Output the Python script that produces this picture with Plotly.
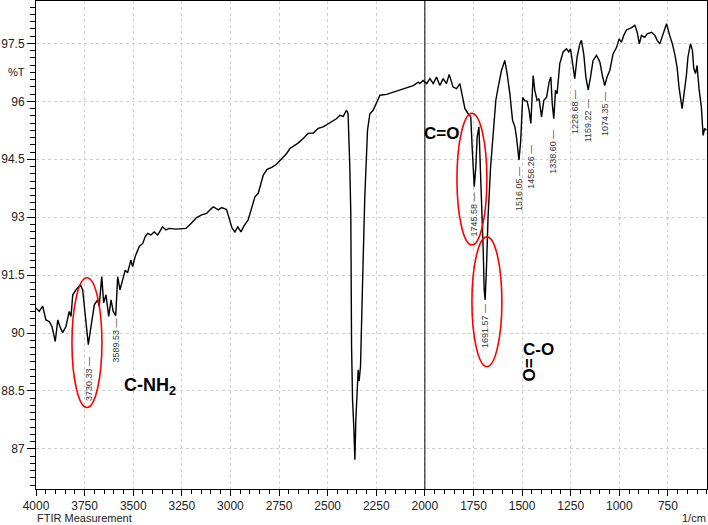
import plotly.graph_objects as go

# Spectrum: wavenumber (1/cm) and transmittance (%T)
wavenumber = [4000, 3983, 3966, 3949, 3932, 3918, 3901, 3888, 3877, 3863, 3846, 3829, 3820, 3811,
              3794, 3772, 3760, 3743, 3731, 3717, 3700, 3683, 3675, 3662, 3652, 3640, 3626, 3614,
              3603, 3590, 3580, 3568, 3554, 3541, 3529, 3512, 3503, 3490, 3469, 3451, 3438, 3426,
              3409, 3392, 3374, 3349, 3332, 3315, 3280, 3229, 3200, 3174, 3148, 3122, 3105, 3088,
              3063, 3045, 3020, 3006, 2992, 2977, 2962, 2946, 2931, 2909, 2891, 2874, 2857, 2845,
              2831, 2811, 2788, 2763, 2737, 2711, 2694, 2668, 2652, 2626, 2600, 2574, 2549, 2523,
              2497, 2472, 2455, 2437, 2420, 2403, 2395, 2386, 2381, 2377, 2372, 2365, 2360, 2355,
              2348, 2343, 2338, 2331, 2320, 2309, 2295, 2283, 2266, 2245, 2231, 2197, 2163, 2129,
              2094, 2060, 2034, 2026, 2009, 1991, 1974, 1957, 1940, 1923, 1906, 1889, 1875, 1863,
              1855, 1837, 1820, 1806, 1794, 1777, 1764, 1756, 1746, 1738, 1731, 1722, 1714, 1707,
              1700, 1695, 1690, 1683, 1675, 1662, 1649, 1635, 1623, 1606, 1589, 1577, 1563, 1549,
              1537, 1529, 1516, 1507, 1497, 1486, 1474, 1464, 1455, 1443, 1435, 1423, 1413, 1400,
              1388, 1374, 1361, 1352, 1345, 1337, 1328, 1320, 1306, 1289, 1272, 1260, 1251, 1241,
              1229, 1217, 1203, 1195, 1183, 1172, 1160, 1148, 1135, 1117, 1100, 1087, 1075, 1063,
              1049, 1032, 1014, 1001, 989, 977, 963, 937, 920, 908, 897, 886, 869, 857,
              834, 817, 805, 792, 777, 757, 741, 727, 715, 703, 693, 677, 667, 655,
              647, 634, 624, 617, 608, 600, 590, 578, 569, 561, 552]
transmittance = [90.65, 90.56, 90.70, 90.34, 90.30, 90.17, 89.78, 90.34, 90.17, 90.01, 90.17, 90.56, 90.43, 90.99,
                 91.12, 91.25, 91.12, 90.34, 89.70, 90.17, 90.73, 90.86, 90.69, 91.46, 90.78, 90.99, 90.43, 90.86,
                 90.56, 90.45, 91.46, 91.12, 91.38, 91.63, 91.56, 91.89, 91.72, 91.98, 92.24, 92.32, 92.50, 92.58,
                 92.54, 92.62, 92.54, 92.75, 92.67, 92.71, 92.69, 92.71, 92.85, 92.99, 93.06, 93.10, 93.19, 93.27,
                 93.19, 93.25, 93.20, 92.93, 92.72, 92.62, 92.75, 92.62, 92.77, 92.93, 93.27, 93.53, 93.62, 93.87,
                 94.09, 94.24, 94.29, 94.37, 94.52, 94.65, 94.78, 94.86, 94.92, 95.04, 95.17, 95.18, 95.30, 95.34,
                 95.42, 95.49, 95.55, 95.64, 95.61, 95.77, 95.68, 94.30, 93.10, 89.65, 88.27, 87.50, 86.72, 87.76,
                 88.71, 89.05, 88.75, 89.14, 91.38, 93.53, 95.25, 95.68, 95.77, 96.03, 96.16, 96.18, 96.24, 96.29,
                 96.37, 96.41, 96.50, 96.46, 96.54, 96.46, 96.59, 96.46, 96.63, 96.41, 96.59, 96.46, 96.70, 96.46,
                 96.37, 96.33, 96.46, 96.11, 95.81, 95.68, 95.60, 94.73, 93.79, 94.30, 95.08, 95.34, 94.30, 93.44,
                 92.15, 91.12, 90.86, 91.72, 93.01, 94.30, 95.17, 96.03, 96.37, 96.80, 97.06, 96.72, 96.20, 95.51,
                 95.34, 95.08, 94.48, 94.99, 96.10, 96.02, 96.00, 95.77, 95.43, 96.67, 96.29, 96.03, 96.07, 95.60,
                 96.03, 96.11, 96.50, 96.63, 95.94, 95.55, 96.29, 96.20, 96.98, 97.28, 97.36, 97.28, 97.36, 96.98,
                 96.59, 97.15, 97.49, 97.58, 97.23, 96.63, 96.30, 96.63, 97.06, 97.19, 97.02, 96.67, 96.41, 96.63,
                 96.80, 97.23, 97.40, 97.62, 97.53, 97.71, 97.85, 97.91, 97.97, 97.79, 97.49, 97.71, 97.66, 97.75,
                 97.79, 97.71, 97.58, 97.49, 97.71, 98.01, 97.71, 97.49, 97.23, 96.89, 96.37, 95.81, 96.20, 96.67,
                 97.15, 97.49, 97.32, 96.85, 96.72, 96.93, 96.33, 95.85, 95.12, 95.30, 95.25]

# Peak labels: wavenumber, and %T at the top end of each label
peak_labels = ["3730.33", "3589.53", "1745.58", "1691.57", "1516.05", "1456.26",
               "1338.60", "1228.68", "1159.22", "1074.35"]
peak_x = [3730.33, 3589.53, 1745.58, 1691.57, 1516.05, 1456.26, 1338.60, 1228.68, 1159.22, 1074.35]
peak_top = [89.44, 90.42, 93.70, 90.80, 94.35, 94.92, 95.33, 96.34, 96.10, 96.29]

# Highlight ellipses (x0, x1, y0, y1 in data units)
ellipse_x0 = [3815, 1835, 1758]
ellipse_x1 = [3661, 1681, 1604]
ellipse_y0 = [88.07, 92.28, 89.13]
ellipse_y1 = [91.43, 95.69, 92.49]

x_ticks = list(range(4000, 749, -250))
y_ticks = [87, 88.5, 90, 91.5, 93, 94.5, 96, 97.5]

tick_font = dict(family="Liberation Sans, Arial", size=12, color="#222")
label_font = dict(family="Liberation Sans, Arial", size=9, color="#333")
chem_font = dict(family="Liberation Sans, Arial", size=17, color="black")
small_font = dict(family="Liberation Sans, Arial", size=11, color="#222")

fig = go.Figure()
fig.add_trace(go.Scatter(x=wavenumber, y=transmittance, mode="lines",
                         line=dict(color="black", width=1.4), showlegend=False))

shapes = []
for a, b, c, d in zip(ellipse_x0, ellipse_x1, ellipse_y0, ellipse_y1):
    shapes.append(dict(type="circle", xref="x", yref="y", x0=a, x1=b, y0=c, y1=d,
                       line=dict(color="red", width=1.6)))
shapes.append(dict(type="line", xref="x", yref="paper", x0=2000, x1=2000, y0=0, y1=1,
                   line=dict(color="black", width=1)))

annotations = []
for t, x, y in zip(peak_labels, peak_x, peak_top):
    annotations.append(dict(x=x, y=y, xref="x", yref="y", text=t + " \u2014", textangle=-90,
                            showarrow=False, xanchor="center", yanchor="top", font=label_font))

annotations += [
    dict(x=1913, y=95.17, xref="x", yref="y", text="<b>C=O</b>", showarrow=False, font=chem_font),
    dict(x=3414, y=88.61, xref="x", yref="y", text="<b>C-NH<sub>2</sub></b>", showarrow=False,
         font=dict(family="Liberation Sans, Arial", size=18, color="black")),
    dict(x=1414, y=89.57, xref="x", yref="y", text="<b>C-O</b>", showarrow=False, font=chem_font),
    dict(x=1460, y=89.05, xref="x", yref="y", text="<b>O=</b>", textangle=-90, showarrow=False, font=chem_font),
    dict(x=0, y=96.75, xref="paper", yref="y", text="%T", showarrow=False, xanchor="center",
         xshift=-20, font=small_font),
    dict(x=0, y=0, xref="paper", yref="paper", text="FTIR Measurement", showarrow=False,
         xanchor="left", yanchor="top", yshift=-22, font=small_font, borderpad=0),
    dict(x=1, y=0, xref="paper", yref="paper", text="1/cm", showarrow=False,
         xanchor="right", yanchor="top", yshift=-22, font=small_font, borderpad=0),
]

fig.update_layout(
    width=708, height=525,
    margin=dict(l=36, r=1, t=1, b=36),
    paper_bgcolor="white", plot_bgcolor="white",
    shapes=shapes, annotations=annotations,
    xaxis=dict(range=[4000, 549], tickvals=x_ticks, ticks="outside", ticklen=6, tickcolor="black",
               tickfont=tick_font, showline=True, linecolor="black", linewidth=1, mirror=True,
               showgrid=True, gridcolor="#d0d0d0", griddash="dot", gridwidth=1, zeroline=False,
               automargin=False, ticklabelstandoff=0,
               minor=dict(dtick=50, tick0=0, ticks="outside", ticklen=4, tickcolor="black", showgrid=False)),
    yaxis=dict(range=[85.96, 98.6], tickvals=y_ticks, ticks="outside", ticklen=8, tickcolor="black",
               tickfont=tick_font, showline=True, linecolor="black", linewidth=1, mirror=True,
               showgrid=True, gridcolor="#d0d0d0", griddash="dot", gridwidth=1, zeroline=False,
               automargin=False, ticklabelstandoff=0,
               minor=dict(dtick=0.1875, tick0=0, ticks="outside", ticklen=5, tickcolor="black", showgrid=False)),
)

fig.write_html("out.html", config={"displayModeBar": False},
               post_script="document.body.style.margin='0px';document.body.style.overflow='hidden';")
